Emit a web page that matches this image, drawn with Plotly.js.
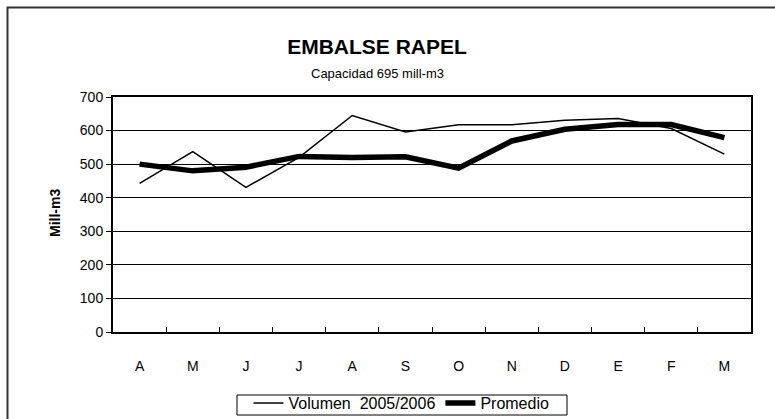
<!DOCTYPE html>
<html>
<head>
<meta charset="utf-8">
<script src="https://cdn.plot.ly/plotly-3.0.1.min.js"></script>
<style>
html,body{margin:0;padding:0;background:#fff;}
#chart{width:775px;height:419px;}
</style>
</head>
<body>
<div id="chart"></div>
<script>
const months = ["A","M","J","J","A","S","O","N","D","E","F","M"];
const volumen = [443, 537, 431, 520, 645, 596, 617, 617, 631, 636, 606, 530];
const promedio = [500, 480, 491, 523, 520, 522, 488, 569, 604, 618, 618, 579];
const seriesNames = ["Volumen\u00A0 2005/2006", "Promedio"];
const yTicks = [0, 100, 200, 300, 400, 500, 600, 700];

const FONT = "Liberation Sans, Arial, sans-serif";
// unique category keys so repeated month letters stay separate
const keys = months.map((m, i) => "c" + i);

const traces = [
  {x: keys, y: volumen, type: "scatter", mode: "lines", name: seriesNames[0],
   line: {color: "#000", width: 1.5}},
  {x: keys, y: promedio, type: "scatter", mode: "lines", name: seriesNames[1],
   line: {color: "#000", width: 5.5}}
];

const L = 113, R = 751, T = 97, B = 332;
const W = R - L, H = B - T;
const px = v => (v - L) / W;
const py = v => (B - v) / H;

const layout = {
  width: 775, height: 419,
  margin: {l: L, r: 775 - R, t: T, b: 419 - B, autoexpand: false},
  paper_bgcolor: "#fff", plot_bgcolor: "#fff",
  font: {family: FONT, color: "#000", size: 14},
  showlegend: true,
  title: {text: "<b>EMBALSE RAPEL</b>", font: {family: FONT, size: 21, color: "#000"},
          xref: "container", x: 377 / 775, xanchor: "center",
          yref: "container", y: 1 - 47 / 419, yanchor: "middle"},
  xaxis: {
    type: "category", tickmode: "array", tickvals: keys, ticktext: months,
    range: [-0.5, 11.5], showgrid: false, zeroline: false,
    showline: true, linecolor: "#000", linewidth: 2, mirror: true,
    ticks: "inside", ticklen: 5, tickcolor: "#000", tickwidth: 1,
    tickson: "boundaries", ticklabelstandoff: 20,
    tickfont: {family: FONT, size: 14, color: "#000"}
  },
  yaxis: {
    range: [0, 700], tickmode: "array", tickvals: yTicks,
    showgrid: true, gridcolor: "#000", gridwidth: 1, zeroline: false,
    showline: true, linecolor: "#000", linewidth: 2, mirror: true,
    ticks: "outside", ticklen: 5, tickcolor: "#000", tickwidth: 1,
    tickfont: {family: FONT, size: 14, color: "#000"}
  },
  legend: {
    orientation: "h", x: px(401.5), xanchor: "center", y: py(386), yanchor: "top",
    borderwidth: 0, bgcolor: "rgba(0,0,0,0)",
    font: {family: FONT, size: 16, color: "#000"}, itemwidth: 30, tracegroupgap: 0
  },
  annotations: [
    {text: "Capacidad 695 mill-m3", xref: "paper", yref: "paper",
     x: px(377), y: py(73), xanchor: "center", yanchor: "middle", showarrow: false,
     font: {family: FONT, size: 13, color: "#000"}},
    {text: "<b>Mill-m3</b>", xref: "paper", yref: "paper", textangle: -90,
     x: px(55), y: py(213), xanchor: "center", yanchor: "middle", showarrow: false,
     font: {family: FONT, size: 14, color: "#000"}}
  ],
  shapes: [
    {type: "rect", xref: "paper", yref: "paper",
     x0: px(7.5), x1: px(790), y0: py(440), y1: py(7.5),
     line: {color: "#333", width: 2}, layer: "below"},
    {type: "rect", xref: "paper", yref: "paper",
     x0: px(237), x1: px(567), y0: py(415), y1: py(395),
     line: {color: "#000", width: 1}, layer: "below"}
  ]
};

Plotly.newPlot("chart", traces, layout, {staticPlot: true, displayModeBar: false});
</script>
</body>
</html>
